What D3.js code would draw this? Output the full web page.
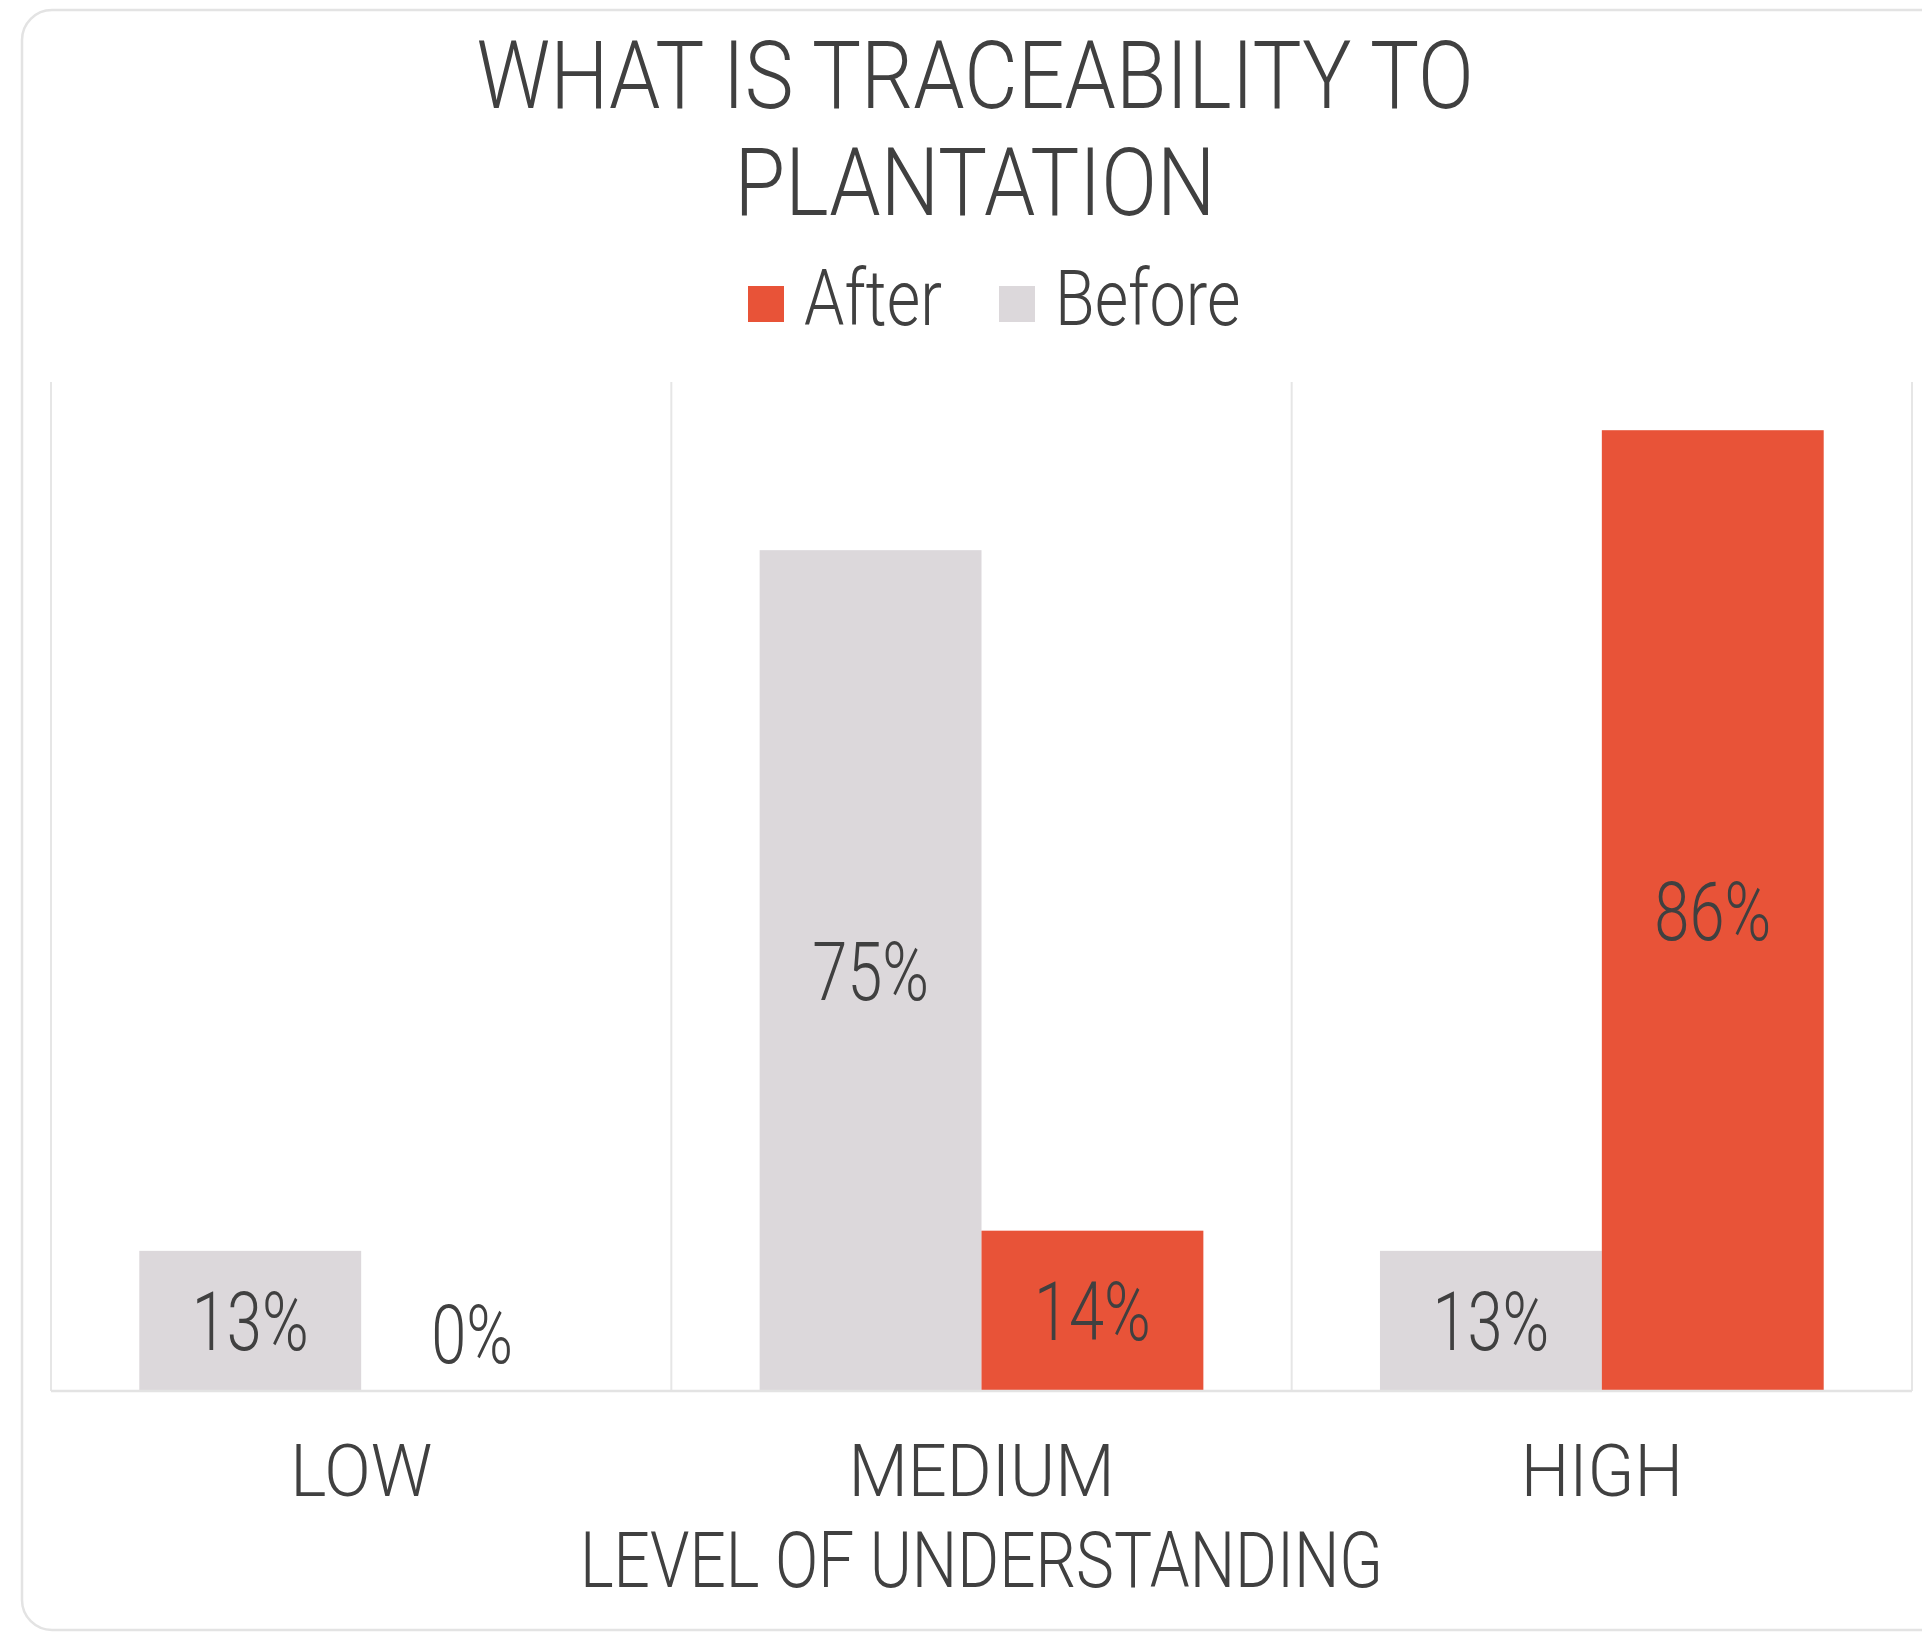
<!DOCTYPE html>
<html>
<head>
<meta charset="utf-8">
<script src="https://cdn.jsdelivr.net/npm/d3@7"></script>
<style>
  body { margin: 0; background: #fff; }
  text { font-family: Roboto, "Liberation Sans Narrow", sans-serif; font-weight: 300; fill: #404040; }
</style>
</head>
<body>
<div id="chart-area"></div>
<script>
// data
var categories = ["LOW", "MEDIUM", "HIGH"];
var seriesNames = ["Before", "After"];
var legendOrder = ["After", "Before"];
var beforeValues = [12.5, 75, 12.5];
var afterValues = [0, 14.3, 85.7];
var yMax = 90;

var colors = { "Before": "#dcd8db", "After": "#e85338" };

var W = 1922, H = 1633;
var margin = { left: 51, right: 10, top: 382, bottom: 242 };

var svg = d3.select("#chart-area").append("svg")
    .attr("width", W)
    .attr("height", H);

// card
svg.append("rect")
    .attr("x", 22).attr("y", 10)
    .attr("width", 2000).attr("height", 1620)
    .attr("rx", 30)
    .attr("fill", "#fff")
    .attr("stroke", "#e3e3e3")
    .attr("stroke-width", 2.5);

var x0 = d3.scaleBand()
    .domain(categories)
    .range([margin.left, W - margin.right])
    .padding(0);
var x1 = d3.scaleBand()
    .domain(seriesNames)
    .range([0, x0.bandwidth()])
    .paddingInner(0)
    .paddingOuter(0.398);
var y = d3.scaleLinear()
    .domain([0, yMax])
    .range([H - margin.bottom, margin.top]);

// squeeze text horizontally, the source font is a condensed one
function condense(sel, k) {
    sel.each(function() {
        var w = this.getComputedTextLength();
        d3.select(this).attr("textLength", w * k).attr("lengthAdjust", "spacingAndGlyphs");
    });
}

// gridlines at category boundaries
var bounds = categories.map(function(c) { return x0(c); }).concat([x0.range()[1]]);
svg.selectAll(".grid").data(bounds).enter().append("line")
    .attr("class", "grid")
    .attr("x1", function(d) { return d; })
    .attr("x2", function(d) { return d; })
    .attr("y1", y(yMax)).attr("y2", y(0))
    .attr("stroke", "#e6e6e6").attr("stroke-width", 2);

// bars
var rows = categories.map(function(c, i) {
    return { cat: c, values: [
        { key: "Before", value: beforeValues[i] },
        { key: "After", value: afterValues[i] }
    ] };
});

var groups = svg.selectAll(".cat").data(rows).enter().append("g")
    .attr("class", "cat")
    .attr("transform", function(d) { return "translate(" + x0(d.cat) + ",0)"; });

groups.selectAll("rect").data(function(d) { return d.values; }).enter().append("rect")
    .attr("x", function(d) { return x1(d.key); })
    .attr("width", x1.bandwidth())
    .attr("y", function(d) { return y(d.value); })
    .attr("height", function(d) { return y(0) - y(d.value); })
    .attr("fill", function(d) { return colors[d.key]; });

var labels = groups.selectAll(".lbl").data(function(d) { return d.values; }).enter().append("text")
    .attr("class", "lbl")
    .attr("text-anchor", "middle")
    .attr("font-size", 81)
    .attr("x", function(d) { return x1(d.key) + x1.bandwidth() / 2; })
    .attr("y", function(d) {
        if (d.value === 0) return y(0) - 28;
        return (y(d.value) + y(0)) / 2 + 29;
    })
    .text(function(d) { return Math.round(d.value) + "%"; });
condense(labels, 0.78);

// baseline
svg.append("line")
    .attr("x1", x0.range()[0]).attr("x2", x0.range()[1])
    .attr("y1", y(0)).attr("y2", y(0))
    .attr("stroke", "#e3e3e3").attr("stroke-width", 2.5);

// category labels
var catLabels = svg.selectAll(".catlbl").data(categories).enter().append("text")
    .attr("class", "catlbl")
    .attr("text-anchor", "middle")
    .attr("font-size", 73)
    .attr("x", function(d) { return x0(d) + x0.bandwidth() / 2; })
    .attr("y", 1496)
    .text(function(d) { return d; });
condense(catLabels, 0.94);

var axisTitle = svg.append("text")
    .attr("text-anchor", "middle")
    .attr("font-size", 77)
    .attr("x", (x0.range()[0] + x0.range()[1]) / 2)
    .attr("y", 1587)
    .text("LEVEL OF UNDERSTANDING");
condense(axisTitle, 0.83);

// title
var titleLines = ["WHAT IS TRACEABILITY TO", "PLANTATION"];
var title = svg.selectAll(".title").data(titleLines).enter().append("text")
    .attr("class", "title")
    .attr("text-anchor", "middle")
    .attr("font-size", 94)
    .attr("x", 975)
    .attr("y", function(d, i) { return 108 + i * 107; })
    .text(function(d) { return d; });
condense(title, 0.875);

// legend
var legend = svg.append("g").attr("transform", "translate(748,286)");
var lx = [0, 251];
var leg = legend.selectAll(".leg").data(legendOrder).enter().append("g")
    .attr("transform", function(d, i) { return "translate(" + lx[i] + ",0)"; });
leg.append("rect")
    .attr("width", 36).attr("height", 36)
    .attr("fill", function(d) { return colors[d]; });
var legText = leg.append("text")
    .attr("x", 56).attr("y", 39)
    .attr("font-size", 77)
    .text(function(d) { return d; });
condense(legText, 0.84);
</script>
</body>
</html>
